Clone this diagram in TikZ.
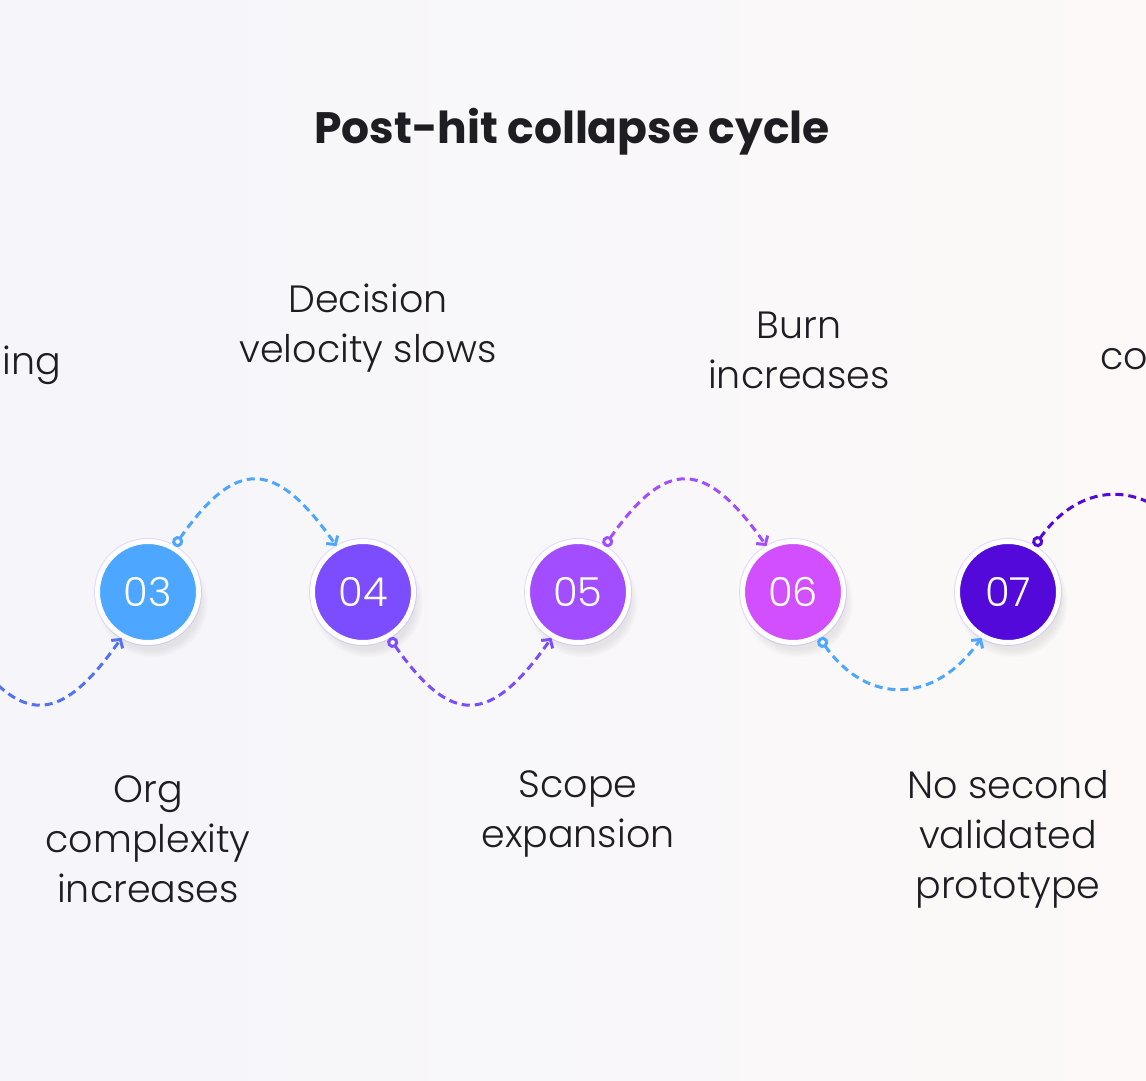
\documentclass[tikz,border=0pt]{standalone}
\usepackage{fontspec}
\setmainfont{Poppins}
\newfontfamily\thinfont{Poppins Light}
\usetikzlibrary{arrows.meta,positioning,shadows}
\definecolor{ink}{HTML}{1E1E22}
\definecolor{bgl}{HTML}{F5F5FA}
\definecolor{bgr}{HTML}{FCF9F8}
\definecolor{ring}{HTML}{E4D8FF}
\definecolor{c02}{HTML}{5272F2}
\definecolor{c03}{HTML}{4DA6FF}
\definecolor{c04}{HTML}{7B4DFF}
\definecolor{c05}{HTML}{A24DFF}
\definecolor{c06}{HTML}{D24FFF}
\definecolor{c07}{HTML}{5309D9}
\tikzstyle{stage}=[circle,draw=white,line width=5pt,minimum size=101pt,inner sep=0pt,
text=white,font=\thinfont\fontsize{40}{40}\selectfont,
preaction={draw=ring,line width=7pt},
circular drop shadow={shadow xshift=4pt,shadow yshift=-9pt,shadow scale=1.1,opacity=.16}]
\tikzstyle{caption}=[align=center,inner sep=0pt,text=ink,font=\thinfont\fontsize{38}{50}\selectfont]
\tikzstyle{flow}=[dashed,line width=3pt,dash pattern=on 8pt off 5pt,
{Circle[open,length=11pt,width=11pt,fill=white]}-{Straight Barb[length=6pt,width=14pt]}]

\begin{document}
\begin{tikzpicture}[x=1pt,y=1pt,node distance=215pt]
            \clip (0,0) rectangle (1146,1080);
            \shade[left color=bgl,right color=bgr] (0,0) rectangle (1146,1080);

            \node[text=ink,font=\fontsize{44}{44}\selectfont\bfseries] (title) at (572,948) {Post-hit collapse cycle};

            % STAGES PART

            \node[stage,fill=c03] at (148,488) (n03) {03};
            \node[stage,fill=c02,left of=n03] (n02) {};
            \node[stage,fill=c04,right of=n03] (n04) {04};
            \node[stage,fill=c05,right of=n04] (n05) {05};
            \node[stage,fill=c06,right of=n05] (n06) {06};
            \node[stage,fill=c07,right of=n06] (n07) {07};
            \node[stage,fill=c07,right of=n07] (n08) {};

            % CAPTIONS PART

            \node[caption,anchor=base east] at (61,705) (lab02) {ing};
            \node[caption,below=130pt of n03] (lab03) {Org\\complexity\\increases};
            \node[caption,above=167pt of n04,xshift=5pt] (lab04) {Decision\\velocity slows};
            \node[caption,below=125pt of n05] (lab05) {Scope\\expansion};
            \node[caption,above=150pt of n06,xshift=6pt] (lab06) {Burn\\increases};
            \node[caption,below=125pt of n07] (lab07) {No second\\validated\\prototype};
            \node[caption,anchor=base west] at (1100,710) (lab08) {co};

            % FLOW PART

            \path[flow,c02] (n02.-60) edge[out=-55,in=-125,looseness=1.7] (n03.-120);
            \path[flow,c03] (n03.60) edge[out=55,in=125,looseness=1.7] (n04.120);
            \path[flow,c04] (n04.-60) edge[out=-55,in=-125,looseness=1.7] (n05.-120);
            \path[flow,c05] (n05.60) edge[out=55,in=125,looseness=1.7] (n06.120);
            \path[flow,c03] (n06.-60) edge[out=-55,in=-125,looseness=1.3] (n07.-120);
            \path[flow,c07] (n07.60) edge[out=55,in=125,looseness=1.3] (n08.120);

        \end{tikzpicture}
\end{document}
